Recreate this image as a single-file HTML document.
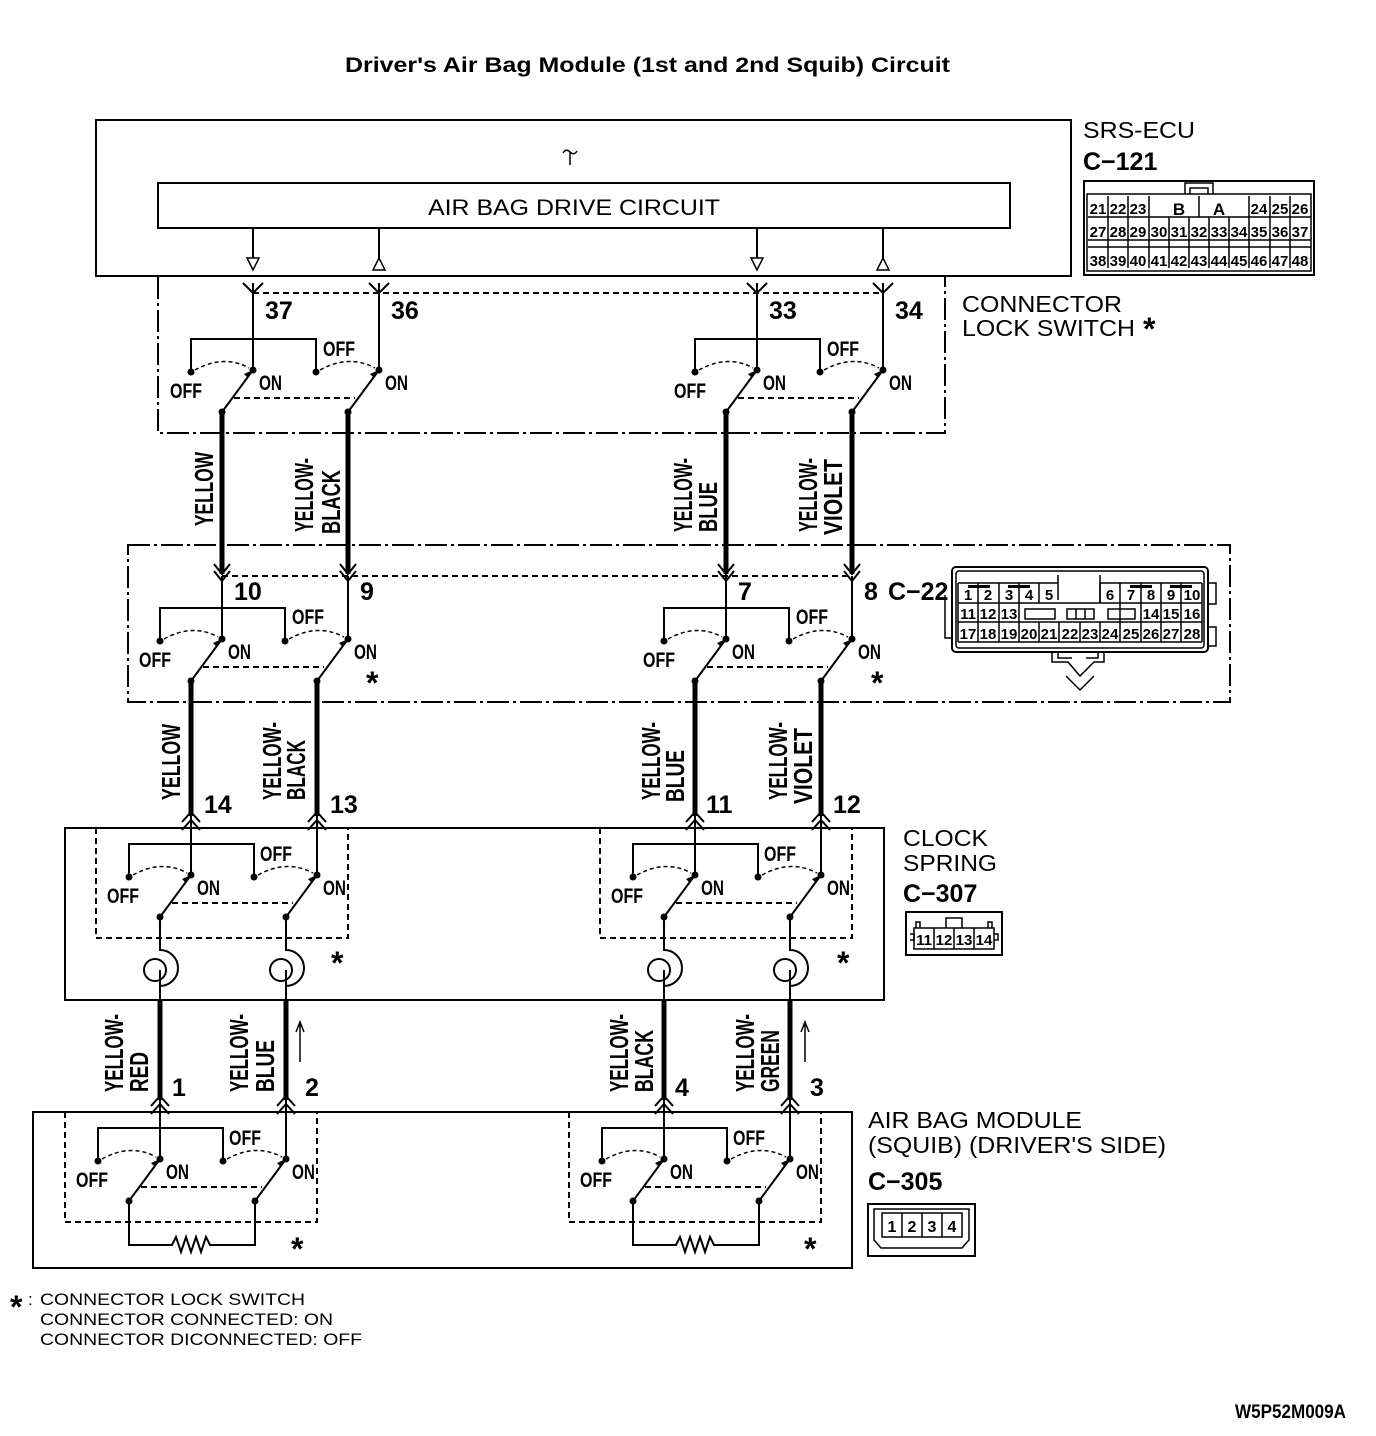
<!DOCTYPE html>
<html><head><meta charset="utf-8"><style>
html,body{margin:0;padding:0;background:#fff}
svg{display:block}
.n{font-family:"Liberation Sans Narrow","Liberation Sans",sans-serif;font-weight:bold;fill:#000}
.r{font-family:"Liberation Sans",sans-serif;fill:#000}
</style></head><body>
<svg width="1376" height="1436" viewBox="0 0 1376 1436" xmlns="http://www.w3.org/2000/svg">
<defs>
<g id="sw" stroke="#000" fill="none">
 <path d="M-62,2 V-31 H63 V2" stroke-width="2"/>
 <path d="M-58,0 Q-29,-16 -4,-2" stroke-width="1.5" stroke-dasharray="4,3"/>
 <path d="M67,0 Q96,-16 122,-2" stroke-width="1.5" stroke-dasharray="4,3"/>
 <path d="M-19,28 H102" stroke-width="2" stroke-dasharray="6,4"/>
 <path d="M-31,42 L0,0 M95,42 L126,0" stroke-width="2"/>
 <g fill="#000" stroke="none">
  <circle cx="0" cy="0" r="3.5"/><circle cx="-62" cy="2" r="3.5"/><circle cx="63" cy="2" r="3.5"/><circle cx="126" cy="0" r="3.5"/>
  <circle cx="-31" cy="42" r="3.5"/><circle cx="95" cy="42" r="3.5"/>
  <path d="M0,0 l-9,4 l4,4z M126,0 l-9,4 l4,4z"/>
 </g>
</g>
<g id="dn" stroke="#000" fill="none" stroke-width="2"><path d="M-8,-10 L0,0 L8,-10 M-8,-3 L0,7 L8,-3"/></g>
<g id="up" stroke="#000" fill="none" stroke-width="2"><path d="M-9,10 L0,0 L9,10 M-9,18 L0,8 L9,18"/></g>
</defs>

<text class="r" x="345" y="72" font-size="21" font-weight="bold" textLength="605" lengthAdjust="spacingAndGlyphs">Driver's Air Bag Module (1st and 2nd Squib) Circuit</text>

<!-- SRS ECU -->
<g stroke="#000" fill="none" stroke-width="2">
<rect x="96" y="120" width="975" height="156"/>
<rect x="158" y="183" width="852" height="45"/>
<path d="M253,228V258 M379,228V258 M757,228V258 M883,228V258"/>
<path d="M247,258H259L253,270Z M751,258H763L757,270Z M373,270H385L379,258Z M877,270H889L883,258Z" stroke-width="1.5"/>
<path d="M570,165V152 M563,153 q3,-5 7,-1 t7,-1" stroke-width="1.5"/>
</g>
<text class="r" x="428" y="215" font-size="22" textLength="292" lengthAdjust="spacingAndGlyphs">AIR BAG DRIVE CIRCUIT</text>

<!-- Level 1 -->
<g stroke="#000" fill="none" stroke-width="2">
<path d="M158,277V433H945V277" stroke-dasharray="22,4,3,4"/>
<path d="M253,293H883" stroke-dasharray="6,4"/>
<path d="M243,283L253,293L263,283 M369,283L379,293L389,283 M747,283L757,293L767,283 M873,283L883,293L893,283"/>
<path d="M253,283V370 M379,283V370 M757,283V370 M883,283V370"/>
</g>
<use href="#sw" x="253" y="370"/><use href="#sw" x="757" y="370"/>

<g stroke="#000" stroke-width="5"><path d="M222,412V574 M348,412V574 M726,412V574 M852,412V574"/></g>

<!-- Level 2 -->
<g stroke="#000" fill="none" stroke-width="2">
<path d="M128,545H1230V702H128Z" stroke-dasharray="22,4,3,4"/>
<path d="M222,576H852" stroke-dasharray="6,4"/>
<path d="M222,576V639 M348,576V639 M726,576V639 M852,576V639"/>
</g>
<use href="#dn" x="222" y="574"/><use href="#dn" x="348" y="574"/><use href="#dn" x="726" y="574"/><use href="#dn" x="852" y="574"/>
<use href="#sw" x="222" y="639"/><use href="#sw" x="726" y="639"/>

<g stroke="#000" stroke-width="5"><path d="M191,681V816 M317,681V816 M695,681V816 M821,681V816"/></g>

<!-- Level 3 -->
<g stroke="#000" fill="none" stroke-width="2">
<rect x="65" y="828" width="819" height="172"/>
<path d="M96,828V938H348V828 M600,828V938H852V828" stroke-dasharray="6,4"/>
<path d="M191,814V875 M317,814V875 M695,814V875 M821,814V875"/>
</g>
<use href="#up" x="191" y="812"/><use href="#up" x="317" y="812"/><use href="#up" x="695" y="812"/><use href="#up" x="821" y="812"/>
<use href="#sw" x="191" y="875"/><use href="#sw" x="695" y="875"/>
<g stroke="#000" fill="none" stroke-width="2">
<path d="M160,917V950 A18,18 0 0 1 160,986"/><circle cx="155" cy="970" r="11"/>
<path d="M286,917V950 A18,18 0 0 1 286,986"/><circle cx="281" cy="970" r="11"/>
<path d="M664,917V950 A18,18 0 0 1 664,986"/><circle cx="659" cy="970" r="11"/>
<path d="M790,917V950 A18,18 0 0 1 790,986"/><circle cx="785" cy="970" r="11"/>
<path d="M160,970V1000 M286,970V1000 M664,970V1000 M790,970V1000"/>
</g>
<g stroke="#000" stroke-width="5"><path d="M160,1000V1100 M286,1000V1100 M664,1000V1100 M790,1000V1100"/></g>
<g stroke="#000" stroke-width="1.5" fill="none"><path d="M300,1062V1024 M296,1032L300,1022L304,1032 M805,1062V1024 M801,1032L805,1022L809,1032"/></g>

<!-- Level 4 -->
<g stroke="#000" fill="none" stroke-width="2">
<rect x="33" y="1112" width="819" height="156"/>
<path d="M65,1112V1222H317V1112 M569,1112V1222H821V1112" stroke-dasharray="6,4"/>
<path d="M160,1098V1159 M286,1098V1159 M664,1098V1159 M790,1098V1159"/>
<path d="M129,1201V1245H172l4,-8l5,15l5,-15l5,15l5,-15l5,15l5,-15l4,8H255V1201"/>
<path d="M633,1201V1245H676l4,-8l5,15l5,-15l5,15l5,-15l5,15l5,-15l4,8H759V1201"/>
</g>
<use href="#up" x="160" y="1096"/><use href="#up" x="286" y="1096"/><use href="#up" x="664" y="1096"/><use href="#up" x="790" y="1096"/>
<use href="#sw" x="160" y="1159"/><use href="#sw" x="664" y="1159"/>

<!-- OFF/ON labels -->
<g class="n" font-size="21">
<text x="170" y="398" textLength="32" lengthAdjust="spacingAndGlyphs">OFF</text><text x="323" y="356" textLength="32" lengthAdjust="spacingAndGlyphs">OFF</text><text x="259" y="390" textLength="23" lengthAdjust="spacingAndGlyphs">ON</text><text x="385" y="390" textLength="23" lengthAdjust="spacingAndGlyphs">ON</text>
<text x="674" y="398" textLength="32" lengthAdjust="spacingAndGlyphs">OFF</text><text x="827" y="356" textLength="32" lengthAdjust="spacingAndGlyphs">OFF</text><text x="763" y="390" textLength="23" lengthAdjust="spacingAndGlyphs">ON</text><text x="889" y="390" textLength="23" lengthAdjust="spacingAndGlyphs">ON</text>
<text x="139" y="667" textLength="32" lengthAdjust="spacingAndGlyphs">OFF</text><text x="292" y="624" textLength="32" lengthAdjust="spacingAndGlyphs">OFF</text><text x="228" y="659" textLength="23" lengthAdjust="spacingAndGlyphs">ON</text><text x="354" y="659" textLength="23" lengthAdjust="spacingAndGlyphs">ON</text>
<text x="643" y="667" textLength="32" lengthAdjust="spacingAndGlyphs">OFF</text><text x="796" y="624" textLength="32" lengthAdjust="spacingAndGlyphs">OFF</text><text x="732" y="659" textLength="23" lengthAdjust="spacingAndGlyphs">ON</text><text x="858" y="659" textLength="23" lengthAdjust="spacingAndGlyphs">ON</text>
<text x="107" y="903" textLength="32" lengthAdjust="spacingAndGlyphs">OFF</text><text x="260" y="861" textLength="32" lengthAdjust="spacingAndGlyphs">OFF</text><text x="197" y="895" textLength="23" lengthAdjust="spacingAndGlyphs">ON</text><text x="323" y="895" textLength="23" lengthAdjust="spacingAndGlyphs">ON</text>
<text x="611" y="903" textLength="32" lengthAdjust="spacingAndGlyphs">OFF</text><text x="764" y="861" textLength="32" lengthAdjust="spacingAndGlyphs">OFF</text><text x="701" y="895" textLength="23" lengthAdjust="spacingAndGlyphs">ON</text><text x="827" y="895" textLength="23" lengthAdjust="spacingAndGlyphs">ON</text>
<text x="76" y="1187" textLength="32" lengthAdjust="spacingAndGlyphs">OFF</text><text x="229" y="1145" textLength="32" lengthAdjust="spacingAndGlyphs">OFF</text><text x="166" y="1179" textLength="23" lengthAdjust="spacingAndGlyphs">ON</text><text x="292" y="1179" textLength="23" lengthAdjust="spacingAndGlyphs">ON</text>
<text x="580" y="1187" textLength="32" lengthAdjust="spacingAndGlyphs">OFF</text><text x="733" y="1145" textLength="32" lengthAdjust="spacingAndGlyphs">OFF</text><text x="670" y="1179" textLength="23" lengthAdjust="spacingAndGlyphs">ON</text><text x="796" y="1179" textLength="23" lengthAdjust="spacingAndGlyphs">ON</text>
</g>

<!-- pin numbers -->
<g class="n" font-size="25">
<text x="265" y="319">37</text><text x="391" y="319">36</text><text x="769" y="319">33</text><text x="895" y="319">34</text>
<text x="234" y="600">10</text><text x="360" y="600">9</text><text x="738" y="600">7</text><text x="864" y="600">8</text><text x="888" y="600">C−22</text>
<text x="204" y="813">14</text><text x="330" y="813">13</text><text x="706" y="813">11</text><text x="833" y="813">12</text>
<text x="172" y="1096">1</text><text x="305" y="1096">2</text><text x="675" y="1096">4</text><text x="810" y="1096">3</text>
</g>
<g class="r" font-size="32" font-weight="bold">
<text x="366" y="694">*</text><text x="871" y="694">*</text>
<text x="331" y="974">*</text><text x="837" y="974">*</text>
<text x="291" y="1260">*</text><text x="804" y="1260">*</text>
</g>

<!-- wire color labels (rotated) -->
<g class="n" font-size="26">
<text transform="translate(213,526) rotate(-90)" textLength="74" lengthAdjust="spacingAndGlyphs">YELLOW</text>
<text transform="translate(313,532) rotate(-90)" textLength="74" lengthAdjust="spacingAndGlyphs">YELLOW-</text>
<text transform="translate(340,534) rotate(-90)" textLength="64" lengthAdjust="spacingAndGlyphs">BLACK</text>
<text transform="translate(692,532) rotate(-90)" textLength="74" lengthAdjust="spacingAndGlyphs">YELLOW-</text>
<text transform="translate(717,532) rotate(-90)" textLength="50" lengthAdjust="spacingAndGlyphs">BLUE</text>
<text transform="translate(817,532) rotate(-90)" textLength="74" lengthAdjust="spacingAndGlyphs">YELLOW-</text>
<text transform="translate(842,535) rotate(-90)" textLength="76" lengthAdjust="spacingAndGlyphs">VIOLET</text>

<text transform="translate(180,800) rotate(-90)" textLength="76" lengthAdjust="spacingAndGlyphs">YELLOW</text>
<text transform="translate(281,800) rotate(-90)" textLength="78" lengthAdjust="spacingAndGlyphs">YELLOW-</text>
<text transform="translate(305,800) rotate(-90)" textLength="60" lengthAdjust="spacingAndGlyphs">BLACK</text>
<text transform="translate(660,800) rotate(-90)" textLength="78" lengthAdjust="spacingAndGlyphs">YELLOW-</text>
<text transform="translate(684,802) rotate(-90)" textLength="52" lengthAdjust="spacingAndGlyphs">BLUE</text>
<text transform="translate(787,800) rotate(-90)" textLength="78" lengthAdjust="spacingAndGlyphs">YELLOW-</text>
<text transform="translate(812,804) rotate(-90)" textLength="76" lengthAdjust="spacingAndGlyphs">VIOLET</text>

<text transform="translate(123,1092) rotate(-90)" textLength="78" lengthAdjust="spacingAndGlyphs">YELLOW-</text>
<text transform="translate(148,1092) rotate(-90)" textLength="40" lengthAdjust="spacingAndGlyphs">RED</text>
<text transform="translate(248,1092) rotate(-90)" textLength="78" lengthAdjust="spacingAndGlyphs">YELLOW-</text>
<text transform="translate(274,1092) rotate(-90)" textLength="52" lengthAdjust="spacingAndGlyphs">BLUE</text>
<text transform="translate(628,1092) rotate(-90)" textLength="78" lengthAdjust="spacingAndGlyphs">YELLOW-</text>
<text transform="translate(653,1092) rotate(-90)" textLength="62" lengthAdjust="spacingAndGlyphs">BLACK</text>
<text transform="translate(754,1092) rotate(-90)" textLength="78" lengthAdjust="spacingAndGlyphs">YELLOW-</text>
<text transform="translate(779,1092) rotate(-90)" textLength="62" lengthAdjust="spacingAndGlyphs">GREEN</text>
</g>

<!-- right side labels -->
<g class="r" font-size="23">
<text x="1083" y="138" textLength="112" lengthAdjust="spacingAndGlyphs">SRS-ECU</text>
<text x="962" y="312" textLength="160" lengthAdjust="spacingAndGlyphs">CONNECTOR</text>
<text x="962" y="336" textLength="173" lengthAdjust="spacingAndGlyphs">LOCK SWITCH</text>
<text x="1143" y="340" font-size="32" font-weight="bold">*</text>
<text x="903" y="846" textLength="85" lengthAdjust="spacingAndGlyphs">CLOCK</text>
<text x="903" y="871" textLength="94" lengthAdjust="spacingAndGlyphs">SPRING</text>
<text x="868" y="1128" textLength="214" lengthAdjust="spacingAndGlyphs">AIR BAG MODULE</text>
<text x="868" y="1153" textLength="298" lengthAdjust="spacingAndGlyphs">(SQUIB) (DRIVER'S SIDE)</text>
</g>
<g class="n" font-size="25">
<text x="1083" y="170">C−121</text>
<text x="903" y="902">C−307</text>
<text x="868" y="1190">C−305</text>
</g>

<!-- C-121 connector -->
<g stroke="#000" fill="none" stroke-width="2">
<rect x="1084" y="181" width="230" height="94"/>
<rect x="1087" y="194" width="224" height="77" stroke-width="1.5"/>
<path d="M1185,194V183H1213V194 M1190,194V188H1208V194" stroke-width="1.5"/>
<path d="M1088,217H1311 M1088,240H1311 M1088,247H1311" stroke-width="1.5"/>
<path d="M1108,196V268 M1128,196V268 M1149,196V268 M1249,196V268 M1270,196V268 M1290,196V268 M1169,217V268 M1189,217V268 M1209,217V268 M1229,217V268 M1199,196V217" stroke-width="1.5"/>
</g>
<g class="n" font-size="15" text-anchor="middle">
<text x="1098" y="214">21</text><text x="1118" y="214">22</text><text x="1138" y="214">23</text><text x="1179" y="215" font-size="17">B</text><text x="1219" y="215" font-size="17">A</text><text x="1259" y="214">24</text><text x="1280" y="214">25</text><text x="1300" y="214">26</text>
<text x="1098" y="237">27</text><text x="1118" y="237">28</text><text x="1138" y="237">29</text><text x="1159" y="237">30</text><text x="1179" y="237">31</text><text x="1199" y="237">32</text><text x="1219" y="237">33</text><text x="1239" y="237">34</text><text x="1259" y="237">35</text><text x="1280" y="237">36</text><text x="1300" y="237">37</text>
<text x="1098" y="266">38</text><text x="1118" y="266">39</text><text x="1138" y="266">40</text><text x="1159" y="266">41</text><text x="1179" y="266">42</text><text x="1199" y="266">43</text><text x="1219" y="266">44</text><text x="1239" y="266">45</text><text x="1259" y="266">46</text><text x="1280" y="266">47</text><text x="1300" y="266">48</text>
</g>

<!-- C-22 connector -->
<g stroke="#000" fill="none" stroke-width="1.5">
<rect x="952" y="567" width="256" height="85" rx="4" stroke-width="2"/>
<rect x="956" y="571" width="248" height="77" rx="3"/>
<path d="M945,595V638H952 M1208,583H1216V604H1208 M1208,627H1216V646H1208"/>
<path d="M958,583H1058 M958,603H1202 M958,622H1202 M958,642H1202 M1100,583H1202 M1058,575V600 M1100,575V603"/>
<path d="M958,583V642 M978,583V642 M999,583V642 M1019,583V642 M1039,583V603 M1039,622V642 M1059,622V642 M1080,622V642 M1100,622V642 M1120,583V642 M1141,583V642 M1161,583V642 M1181,583V642 M1202,583V642 M1100,583V603"/>
<rect x="1025" y="609" width="30" height="10"/><rect x="1067" y="609" width="27" height="10"/><path d="M1076,609V619 M1085,609V619"/><rect x="1108" y="609" width="27" height="10"/>
<path d="M1052,652V662H1068L1080,676L1094,662H1104V652 M1058,652V658H1072 M1098,652V658H1086 M1066,676L1080,690L1094,676"/>
</g>
<g fill="#000"><rect x="968" y="585" width="22" height="3"/><rect x="1008" y="585" width="22" height="3"/><rect x="1130" y="585" width="22" height="3"/><rect x="1170" y="585" width="22" height="3"/></g>
<g class="n" font-size="15" text-anchor="middle">
<text x="968" y="600">1</text><text x="988" y="600">2</text><text x="1009" y="600">3</text><text x="1029" y="600">4</text><text x="1049" y="600">5</text><text x="1110" y="600">6</text><text x="1131" y="600">7</text><text x="1151" y="600">8</text><text x="1171" y="600">9</text><text x="1192" y="600">10</text>
<text x="968" y="619">11</text><text x="988" y="619">12</text><text x="1009" y="619">13</text><text x="1151" y="619">14</text><text x="1171" y="619">15</text><text x="1192" y="619">16</text>
<text x="968" y="639">17</text><text x="988" y="639">18</text><text x="1009" y="639">19</text><text x="1029" y="639">20</text><text x="1049" y="639">21</text><text x="1070" y="639">22</text><text x="1090" y="639">23</text><text x="1110" y="639">24</text><text x="1131" y="639">25</text><text x="1151" y="639">26</text><text x="1171" y="639">27</text><text x="1192" y="639">28</text>
</g>

<!-- C-307 -->
<g stroke="#000" fill="none" stroke-width="1.5">
<rect x="906" y="912" width="96" height="43" stroke-width="2"/>
<rect x="914" y="928" width="80" height="21"/>
<path d="M934,928V949 M954,928V949 M974,928V949 M946,928V918H962V928 M916,928V922H920V928 M988,928V922H992V928 M910,934H914V940H910 M994,934H998V940H994"/>
</g>
<g class="n" font-size="15" text-anchor="middle"><text x="924" y="945">11</text><text x="944" y="945">12</text><text x="964" y="945">13</text><text x="984" y="945">14</text></g>

<!-- C-305 -->
<g stroke="#000" fill="none" stroke-width="1.5">
<rect x="868" y="1204" width="107" height="52" stroke-width="2"/>
<path d="M874,1209H969V1240L962,1248H881L874,1240Z"/>
<rect x="882" y="1213" width="80" height="24"/>
<path d="M902,1213V1237 M922,1213V1237 M942,1213V1237"/>
</g>
<g class="n" font-size="16" text-anchor="middle"><text x="892" y="1232">1</text><text x="912" y="1232">2</text><text x="932" y="1232">3</text><text x="952" y="1232">4</text></g>

<!-- footnote -->
<text class="r" x="10" y="1318" font-size="32" font-weight="bold">*</text>
<g class="r" font-size="17">
<text x="28" y="1305">:</text>
<text x="40" y="1305" textLength="265" lengthAdjust="spacingAndGlyphs">CONNECTOR LOCK SWITCH</text>
<text x="40" y="1325" textLength="293" lengthAdjust="spacingAndGlyphs">CONNECTOR CONNECTED: ON</text>
<text x="40" y="1345" textLength="322" lengthAdjust="spacingAndGlyphs">CONNECTOR DICONNECTED: OFF</text>
</g>
<text class="n" x="1235" y="1418" font-size="19" textLength="111" lengthAdjust="spacingAndGlyphs">W5P52M009A</text>
</svg>
</body></html>
